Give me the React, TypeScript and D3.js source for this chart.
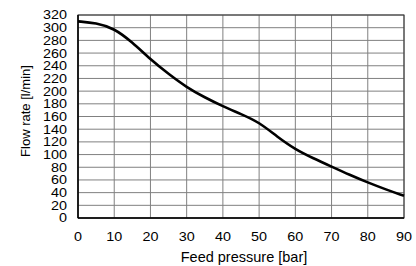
import React from 'react';
import * as d3 from 'd3';

const pressure = [0, 5, 10, 15, 20, 25, 30, 35, 40, 45, 50, 55, 60, 65, 70, 75, 80, 85, 90];
const flow = [310, 307.5, 299, 277, 250, 227, 206, 190, 176, 164, 151, 128, 108, 94, 81, 68, 56, 45, 35];
const xTicks = [0, 10, 20, 30, 40, 50, 60, 70, 80, 90];
const yTicks = [0, 20, 40, 60, 80, 100, 120, 140, 160, 180, 200, 220, 240, 260, 280, 300, 320];

const W = 416;
const H = 266;
const m = { left: 78, right: 12, top: 15, bottom: 48 };

export default function App() {
  const x = d3.scaleLinear().domain([0, 90]).range([m.left, W - m.right]);
  const y = d3.scaleLinear().domain([0, 320]).range([H - m.bottom, m.top]);
  const pts = pressure.map((p, i) => [p, flow[i]] as [number, number]);
  const line = d3.line<[number, number]>()
    .x(d => x(d[0]))
    .y(d => y(d[1]))
    .curve(d3.curveBasis);

  const font = 'Liberation Sans, Arial, sans-serif';

  return (
    <svg width={W} height={H} style={{ position: 'absolute', left: 0, top: 0, background: '#fff' }}>
      {/* grid */}
      {yTicks.map(t => (
        <line key={'gy' + t} x1={x(0)} x2={x(90)} y1={y(t)} y2={y(t)} stroke="#808080" strokeWidth={1} />
      ))}
      {xTicks.map(t => (
        <line key={'gx' + t} x1={x(t)} x2={x(t)} y1={y(0)} y2={y(320)} stroke="#808080" strokeWidth={1} />
      ))}
      {/* frame */}
      <rect x={x(0)} y={y(320)} width={x(90) - x(0)} height={y(0) - y(320)} fill="none" stroke="#333" strokeWidth={1} />
      <line x1={x(0)} x2={x(0)} y1={y(0)} y2={y(320)} stroke="#000" strokeWidth={1.5} />
      <line x1={x(0)} x2={x(90)} y1={y(0)} y2={y(0)} stroke="#000" strokeWidth={1.5} />

      <path d={line(pts) || ''} fill="none" stroke="#000" strokeWidth={2.6} strokeLinejoin="round" />

      {/* y tick labels */}
      {yTicks.map(t => (
        <text key={'ty' + t} x={67} y={y(t)} dy="0.36em" textAnchor="end" fontFamily={font} fontSize={12.5}
          transform={`translate(67,0) scale(1.15,1) translate(-67,0)`}>
          {t}
        </text>
      ))}
      {/* x tick labels */}
      {xTicks.map(t => (
        <text key={'tx' + t} x={x(t)} y={241} textAnchor="middle" fontFamily={font} fontSize={12.5}
          transform={`translate(${x(t)},0) scale(1.15,1) translate(${-x(t)},0)`}>
          {t}
        </text>
      ))}
      <text x={244} y={262} textAnchor="middle" fontFamily={font} fontSize={14.5}>Feed pressure [bar]</text>
      <text transform={`translate(29.5,111) rotate(-90)`} textAnchor="middle" fontFamily={font} fontSize={13}>
        Flow rate [l/min]
      </text>
    </svg>
  );
}
